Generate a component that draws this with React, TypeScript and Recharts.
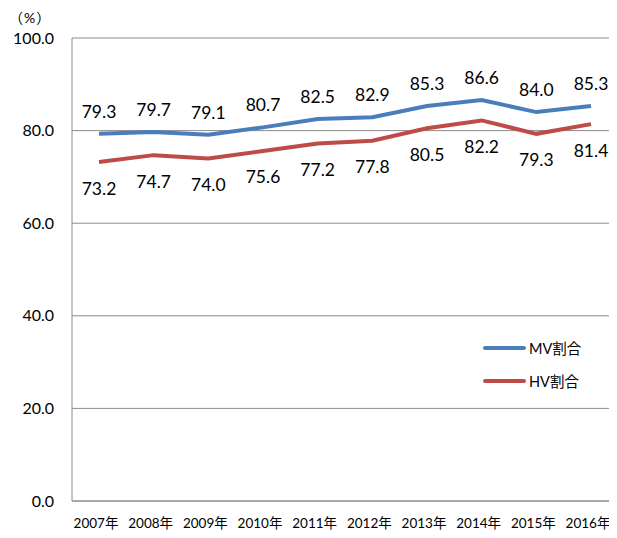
import { LineChart, Line, XAxis, YAxis, CartesianGrid, Legend, LabelList } from 'recharts';

const years = ['2007年', '2008年', '2009年', '2010年', '2011年', '2012年', '2013年', '2014年', '2015年', '2016年'];
const mvRatio = [79.3, 79.7, 79.1, 80.7, 82.5, 82.9, 85.3, 86.6, 84.0, 85.3];
const hvRatio = [73.2, 74.7, 74.0, 75.6, 77.2, 77.8, 80.5, 82.2, 79.3, 81.4];
const yTicks = [0, 20, 40, 60, 80, 100];
const seriesOrder = ['MV割合', 'HV割合'];

const FONT = 'Lato, "Noto Sans CJK JP", sans-serif';
const BLUE = '#4a7ebb';
const RED = '#be4b48';

const data = years.map((y, i) => ({ year: y, mv: mvRatio[i], hv: hvRatio[i] }));

function LegendBox(props: any) {
  const items = [...(props.payload || [])].sort(
    (a: any, b: any) => seriesOrder.indexOf(a.value) - seriesOrder.indexOf(b.value),
  );
  return (
    <div style={{ fontFamily: FONT, fontSize: 14.5, color: '#000' }}>
      {items.map((it: any) => (
        <div key={it.value} style={{ display: 'flex', alignItems: 'center', height: 33 }}>
          <span style={{ display: 'inline-block', width: 43, height: 4, borderRadius: 2, background: it.color, marginRight: 3 }} />
          <span>{it.value}</span>
        </div>
      ))}
    </div>
  );
}

export default function App() {
  return (
    <div style={{ margin: -8, width: 617, height: 538, overflow: 'hidden', position: 'relative', background: '#fff' }}>
      <div style={{ position: 'absolute', left: 80, top: -16, fontFamily: FONT, fontWeight: 'bold', fontSize: 18, whiteSpace: 'nowrap' }}>
        図5 DCR,DC割合
      </div>
      <div style={{ position: 'absolute', left: 9, top: 7, fontFamily: FONT, fontSize: 14, letterSpacing: 1 }}>（%）</div>
      <LineChart width={620} height={538} data={data} margin={{ top: 38, right: 2, bottom: 7, left: 0 }}>
        <CartesianGrid vertical={false} stroke="#8c8c8c" strokeWidth={1} />
        <XAxis
          dataKey="year"
          height={30}
          axisLine={{ stroke: '#8c8c8c' }}
          tickLine={false}
          tickSize={0}
          tickMargin={17}
          interval={0}
          padding={{ left: 27, right: 27 }}
          tick={{ fontFamily: FONT, fontSize: 13.5, fill: '#000', dx: -3 }}
        />
        <YAxis
          width={72}
          domain={[0, 100]}
          ticks={yTicks}
          tickFormatter={(v: number) => v.toFixed(1)}
          axisLine={{ stroke: '#8c8c8c' }}
          tickLine={false}
          tickSize={0}
          tickMargin={18}
          tick={{ fontFamily: FONT, fontSize: 16, fill: '#000' }}
        />
        <Legend
          layout="vertical"
          align="center"
          verticalAlign="middle"
          content={<LegendBox />}
          wrapperStyle={{ position: 'absolute', left: 483, top: 331, width: 130 }}
        />
        <Line
          type="linear"
          dataKey="mv"
          name="MV割合"
          stroke={BLUE}
          strokeWidth={4}
          dot={false}
          isAnimationActive={false}
        >
          <LabelList
            dataKey="mv"
            position="top"
            offset={16}
            formatter={(v: any) => Number(v).toFixed(1)}
            style={{ fontFamily: FONT, fontSize: 17.5, fill: '#000' }}
          />
        </Line>
        <Line
          type="linear"
          dataKey="hv"
          name="HV割合"
          stroke={RED}
          strokeWidth={4}
          dot={false}
          isAnimationActive={false}
        >
          <LabelList
            dataKey="hv"
            position="bottom"
            offset={20}
            formatter={(v: any) => Number(v).toFixed(1)}
            style={{ fontFamily: FONT, fontSize: 17.5, fill: '#000' }}
          />
        </Line>
      </LineChart>
    </div>
  );
}
